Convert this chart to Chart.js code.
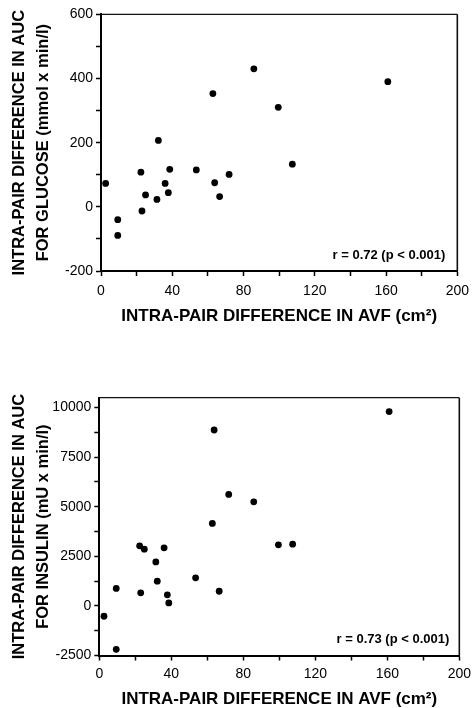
<!DOCTYPE html>
<html>
<head>
<meta charset="utf-8">
<script src="https://cdn.jsdelivr.net/npm/chart.js@4.4.1/dist/chart.umd.min.js"></script>
<style>
  body { margin: 0; background: #fff; }
  canvas { position: absolute; left: 0; display: block; }
  #glucoseChart { top: 0; }
  #insulinChart { top: 335px; }
</style>
</head>
<body>
<canvas id="glucoseChart" width="476" height="325"></canvas>
<canvas id="insulinChart" width="476" height="373"></canvas>
<script>
// intra-pair differences
const avfDiff = [2.6, 9.4, 9.4, 22.4, 23, 25, 31.4, 32.2, 36, 37.8, 38.6, 53.5, 62.8, 63.8, 66.6, 71.9, 85.8, 99.5, 107.4, 161];
const glucoseAuc = [73, -40, -89, 108, -13, 37, 23, 207, 73, 44, 117, 115, 353, 75, 32, 101, 430, 310, 133, 390];
const insulinAuc = [-520, -2190, 880, 3030, 660, 2860, 2220, 1250, 2930, 560, 150, 1415, 4160, 8870, 740, 5620, 5250, 3080, 3115, 9800];

// tick marks; only every other one carries a label
const avfTicks = [0, 20, 40, 60, 80, 100, 120, 140, 160, 180, 200];
const glucoseTicks = [-200, -100, 0, 100, 200, 300, 400, 500, 600];
const insulinTicks = [-2500, -1250, 0, 1250, 2500, 3750, 5000, 6250, 7500, 8750, 10000];

const xTitle = "INTRA-PAIR DIFFERENCE IN AVF (cm²)";
const glucoseTitle = ["INTRA-PAIR DIFFERENCE IN AUC", "FOR GLUCOSE (mmol x min/l)"];
const insulinTitle = ["INTRA-PAIR DIFFERENCE IN AUC", "FOR INSULIN (mU x min/l)"];
const glucoseR = "r = 0.72 (p < 0.001)";
const insulinR = "r = 0.73 (p < 0.001)";

Chart.defaults.color = "#000";
Chart.defaults.font.family = "'Liberation Sans', Arial, Helvetica, sans-serif";

// box round the plot area plus the r value in the lower right corner
const frame = {
  id: "frame",
  afterDraw(chart, args, opts) {
    const { ctx, chartArea: a } = chart;
    ctx.save();
    ctx.strokeStyle = "#111";
    ctx.lineWidth = 1.2;
    ctx.beginPath();
    ctx.moveTo(a.left, a.top);
    ctx.lineTo(a.right, a.top);
    ctx.stroke();
    ctx.lineWidth = 1.6;
    ctx.beginPath();
    ctx.moveTo(a.right, a.top);
    ctx.lineTo(a.right, a.bottom);
    ctx.stroke();
    ctx.fillStyle = "#000";
    ctx.font = "bold 13px 'Liberation Sans', Arial, sans-serif";
    ctx.textAlign = "right";
    ctx.textBaseline = "alphabetic";
    ctx.fillText(opts.text, a.right - opts.dx, a.bottom - opts.dy);
    ctx.restore();
  }
};

function makeScatter(id, yValues, yTitle, rText, y, pad) {
  new Chart(document.getElementById(id), {
    type: "scatter",
    data: {
      datasets: [{
        data: avfDiff.map((x, i) => ({ x: x, y: yValues[i] })),
        backgroundColor: "#000",
        borderWidth: 0,
        pointRadius: 3.4,
        pointHoverRadius: 3.4
      }]
    },
    options: {
      responsive: false,
      animation: false,
      events: [],
      layout: { padding: { top: pad.top, right: pad.right, left: 0, bottom: 0 } },
      plugins: {
        legend: { display: false },
        tooltip: { enabled: false },
        frame: { text: rText, dx: pad.rdx, dy: pad.rdy }
      },
      scales: {
        x: {
          type: "linear",
          min: 0,
          max: 200,
          afterBuildTicks: s => { s.ticks = avfTicks.map(v => ({ value: v })); },
          afterFit: s => { s.height = pad.xh; },
          border: { color: "#000", width: 2 },
          grid: { drawOnChartArea: false, tickLength: 5, tickColor: "#000", tickWidth: 1.5 },
          ticks: {
            autoSkip: false,
            padding: pad.xtp,
            font: { size: 14 },
            callback: v => (v % 40 === 0 ? v : "")
          },
          title: {
            display: true,
            text: xTitle,
            font: { size: 17, weight: "bold", lineHeight: 1 },
            padding: { top: 0, bottom: 0 }
          }
        },
        y: {
          type: "linear",
          min: y.min,
          max: y.max,
          afterBuildTicks: s => { s.ticks = y.ticks.map(v => ({ value: v })); },
          afterFit: s => { s.width = pad.left; },
          border: { color: "#000", width: 2 },
          grid: { drawOnChartArea: false, tickLength: 5, tickColor: "#000", tickWidth: 1.5 },
          ticks: {
            autoSkip: false,
            padding: 3,
            font: { size: 14 },
            callback: v => (v % y.labelEvery === 0 ? v : "")
          },
          title: {
            display: true,
            text: yTitle,
            font: { size: 16.5, weight: "bold", lineHeight: 1.5 },
            padding: { top: 6.6, bottom: 0 }
          }
        }
      }
    },
    plugins: [frame]
  });
}

makeScatter("glucoseChart", glucoseAuc, glucoseTitle, glucoseR,
  { min: -200, max: 600, ticks: glucoseTicks, labelEvery: 200 },
  { top: 14.3, right: 14.5, left: 101, xh: 54, xtp: 7, rdx: 12, rdy: 12 });

makeScatter("insulinChart", insulinAuc, insulinTitle, insulinR,
  { min: -2500, max: 10500, ticks: insulinTicks, labelEvery: 2500 },
  { top: 62.7, right: 15.7, left: 99.3, xh: 52.5, xtp: 5, rdx: 10, rdy: 13 });
</script>
</body>
</html>
